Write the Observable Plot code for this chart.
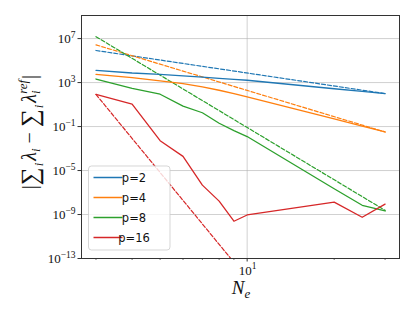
<!DOCTYPE html>
<html><head><meta charset="utf-8">
<script src="https://cdn.jsdelivr.net/npm/d3@7"></script>
<script src="https://cdn.jsdelivr.net/npm/@observablehq/plot@0.6"></script>
<style>
html,body{margin:0;padding:0;background:#fff;}
#chart{width:415px;height:312px;}
</style>
</head><body><div id="chart"></div>
<script>
// ---- data ----
const Ne = [3, 4, 5, 6, 7, 8, 9, 10, 20, 25, 30];
const errP2  = [1.29e4, 7.4e3, 5.6e3, 4.1e3, 3.1e3, 2.4e3, 1.95e3, 1.62e3, 2.75e2, 1.55e2, 98];
const errP4  = [5.6e3, 2.8e3, 1.4e3, 7.9e2, 4.0e2, 2.0e2, 1.0e2, 50, 0.5, 0.11, 0.032];
const errP8  = [2.1e3, 2.9e2, 87, 7.2, 1.8, 0.2, 0.043, 0.0123, 2.2e-7, 6.9e-9, 2.1e-9];
const errP16 = [83, 11, 5.2e-3, 1.95e-4, 4.7e-7, 1.66e-8, 2.45e-10, 9.1e-10, 1.35e-8, 5.6e-10, 8.9e-9];
// reference (dashed) lines: values at first and last N_e
const refNe = [3, 30];
const refP2  = [8.3e5, 100];
const refP4  = [2.7e6, 0.032];
const refP8  = [1.5e7, 2.4e-9];
const refP16 = [83, 8.3e-31];
const labels = ["p=2", "p=4", "p=8", "p=16"];
const colors = ["#1f77b4", "#ff7f0e", "#2ca02c", "#d62728"];
const yTicks = [1e-13, 1e-9, 1e-5, 1e-1, 1e3, 1e7];
const xMajor = [10];
const xMinor = [3, 4, 5, 6, 7, 8, 9, 20, 30];

const series = [errP2, errP4, errP8, errP16];
const refs = [refP2, refP4, refP8, refP16];
const solid = series.flatMap((s, k) => s.map((v, i) => ({x: Ne[i], y: v, p: labels[k]})));
const dashed = refs.flatMap((s, k) => s.map((v, i) => ({x: refNe[i], y: v, p: labels[k]})));

const plot = Plot.plot({
  width: 415, height: 312,
  marginLeft: 81, marginRight: 16, marginTop: 15, marginBottom: 54,
  style: {background: "#fff", overflow: "visible"},
  x: {type: "log", domain: [Math.pow(10, 0.427), Math.pow(10, 1.527)]},
  y: {type: "log", domain: [1e-13, Math.pow(10, 9.1)]},
  color: {domain: labels, range: colors},
  marks: [
    Plot.gridX(xMajor, {stroke: "#b0b0b0", strokeOpacity: 0.6, strokeWidth: 1}),
    Plot.gridY(yTicks, {stroke: "#b0b0b0", strokeOpacity: 0.6, strokeWidth: 1}),
    Plot.line(dashed, {x: "x", y: "y", z: "p", stroke: "p", strokeWidth: 1.2, strokeDasharray: "4,2", clip: true}),
    Plot.line(solid, {x: "x", y: "y", z: "p", stroke: "p", strokeWidth: 1.3, clip: true}),
    Plot.axisX(xMajor, {tickSize: 3.5, tickFormat: () => "", label: null, stroke: "#333"}),
    Plot.axisX(xMinor, {tickSize: 2, tickFormat: () => "", label: null, stroke: "#333", strokeWidth: 0.7}),
    Plot.axisY(yTicks, {tickSize: 3.5, tickFormat: () => "", label: null, stroke: "#333"}),
    Plot.frame({stroke: "#333", strokeWidth: 1})
  ]
});
document.getElementById("chart").appendChild(plot);

const svg = d3.select(plot);
const sx = plot.scale("x"), sy = plot.scale("y");
const serif = "'Liberation Serif', 'DejaVu Serif', serif";

// rich text helper: parts with absolute baseline offsets
function rich(g, parts) {
  let prev = 0;
  parts.forEach(p => {
    const ts = g.append("tspan").text(p.t)
      .attr("font-size", p.s)
      .attr("dy", p.o - prev);
    if (p.it) ts.attr("font-style", "italic");
    if (p.dx) ts.attr("dx", p.dx);
    prev = p.o;
  });
}

// y tick labels: 10^k
yTicks.forEach(v => {
  const e = Math.round(Math.log10(v));
  const t = svg.append("text").attr("font-family", serif).attr("fill", "#111")
    .attr("text-anchor", "end").attr("x", 75.5).attr("y", sy.apply(v) + 4.5);
  rich(t, [{t: "10", s: 13, o: 0}, {t: String(e).replace("-", "\u2212"), s: 9.5, o: -5}]);
});
// x tick label
xMajor.forEach(v => {
  const t = svg.append("text").attr("font-family", serif).attr("fill", "#111")
    .attr("text-anchor", "middle").attr("x", sx.apply(v) + 1).attr("y", 274.5);
  rich(t, [{t: "10", s: 13, o: 0}, {t: "1", s: 9.5, o: -6}]);
});
// x label
{
  const t = svg.append("text").attr("font-family", serif).attr("fill", "#111")
    .attr("text-anchor", "middle").attr("x", 241).attr("y", 293.5);
  rich(t, [{t: "N", s: 19, o: 0, it: true}, {t: "e", s: 13, o: 4, it: true}]);
}
// y label
{
  const t = svg.append("text").attr("font-family", serif).attr("fill", "#111")
    .attr("text-anchor", "middle").attr("transform", "translate(36,132) rotate(-90)");
  rich(t, [
    {t: "|", s: 21, o: 0},
    {t: "\u2211", s: 25, o: 2},
    {t: "i", s: 13, o: 7, it: true, dx: 1},
    {t: "\u03bb", s: 20, o: 0, it: true, dx: 2},
    {t: "i", s: 13, o: 4, it: true},
    {t: " \u2212 ", s: 20, o: 0},
    {t: "\u2211", s: 25, o: 2},
    {t: "i", s: 13, o: 7, it: true, dx: 1},
    {t: "\u03bb", s: 20, o: 0, it: true, dx: 2},
    {t: "i", s: 13, o: 4, it: true},
    {t: "ref", s: 13, o: -9, it: true, dx: -3.5},
    {t: "|", s: 21, o: 0, dx: 1}
  ]);
}
// legend
{
  const g = svg.append("g");
  g.append("rect").attr("x", 88.5).attr("y", 166).attr("width", 81.5).attr("height", 84)
    .attr("rx", 3).attr("fill", "#fff").attr("fill-opacity", 0.8)
    .attr("stroke", "#ccc").attr("stroke-opacity", 0.8);
  labels.forEach((l, i) => {
    const y = 177.5 + i * 20;
    g.append("line").attr("x1", 93.5).attr("x2", 122.5).attr("y1", y).attr("y2", y)
      .attr("stroke", colors[i]).attr("stroke-width", 1.5);
    g.append("text").attr("x", 134).attr("y", y + 4.5).attr("font-family", "'DejaVu Sans', sans-serif")
      .attr("font-size", 11.5).attr("fill", "#111").text(l);
  });
}
</script>
</body></html>
